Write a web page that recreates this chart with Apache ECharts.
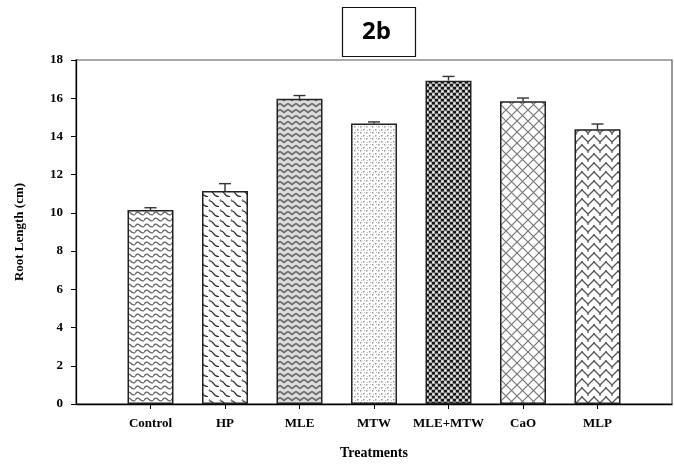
<!DOCTYPE html>
<html><head><meta charset="utf-8">
<script src="https://cdn.jsdelivr.net/npm/echarts@6/dist/echarts.min.js"></script>
<style>html,body{margin:0;padding:0;background:#fff}#c{width:674px;height:465px}</style>
</head><body><div id="c"></div>
<script>
const categories = ['Control','HP','MLE','MTW','MLE+MTW','CaO','MLP'];
const rootLength = [10.15, 11.15, 15.97, 14.68, 16.92, 15.84, 14.38];
const stdError = [0.12, 0.38, 0.17, 0.08, 0.22, 0.17, 0.27];
const yTicks = [0,2,4,6,8,10,12,14,16,18];

function pat(w,h,draw){
  const c=document.createElement('canvas');c.width=w;c.height=h;
  const g=c.getContext('2d');g.fillStyle='#fff';g.fillRect(0,0,w,h);draw(g);return c;
}
const patterns=[
  // Control: wavy rows
  pat(9,6,g=>{g.strokeStyle='#666';g.lineWidth=1.3;g.beginPath();g.moveTo(0,4.5);g.quadraticCurveTo(2.25,0.5,4.5,3);g.quadraticCurveTo(6.75,5.5,9,4.5);g.stroke();}),
  // HP: S strokes
  pat(11,10,g=>{g.strokeStyle='#333';g.lineWidth=1.2;
    const s=(dx,dy)=>{g.beginPath();g.moveTo(dx,dy+1);g.bezierCurveTo(dx+5,dy-0.5,dx+3,dy+7,dx+10,dy+6.5);g.stroke();};
    s(0,0);s(-5.5,5);s(5.5,-5);s(0,10);s(0,-10);s(-11,0);s(11,0);}),
  // MLE: dense grey chevrons
  pat(8,6,g=>{g.fillStyle='#dcdcdc';g.fillRect(0,0,8,6);g.strokeStyle='#6a6a6a';g.lineWidth=1.6;g.beginPath();g.moveTo(0,1.5);g.lineTo(4,4.5);g.lineTo(8,1.5);g.stroke();}),
  // MTW: sparse dots
  pat(6,6,g=>{g.fillStyle='#999';g.fillRect(0,0,1.5,1.5);g.fillRect(3,3,1.5,1.5);g.fillStyle='#bbb';g.fillRect(4,0,1,1);g.fillRect(1,4,1,1);}),
  // MLE+MTW: dense black dots
  pat(6,6,g=>{g.fillStyle='#aaa';g.fillRect(0,0,6,6);g.fillStyle='#1a1a1a';g.fillRect(0,0,3,2.5);g.fillRect(3,3,3,2.5);g.fillStyle='#fff';g.fillRect(3.5,0.5,1.5,1.5);g.fillRect(0.5,3.5,1.5,1.5);}),
  // CaO: diamond lattice
  pat(11,11,g=>{g.strokeStyle='#777';g.lineWidth=1.2;g.beginPath();g.moveTo(0,0);g.lineTo(11,11);g.moveTo(11,0);g.lineTo(0,11);g.stroke();}),
  // MLP: herringbone zigzag
  pat(12,9,g=>{g.strokeStyle='#555';g.lineWidth=1.3;g.beginPath();g.moveTo(0,7);g.lineTo(6,1);g.lineTo(12,7);g.stroke();g.beginPath();g.moveTo(6,1);g.lineTo(6,-1);g.moveTo(0,7);g.lineTo(0,10);g.moveTo(12,7);g.lineTo(12,10);g.stroke();})
];

const barData = rootLength.map((v,i)=>({value:[i+1,v],itemStyle:{color:{image:patterns[i],repeat:'repeat'}}}));
const errData = rootLength.map((v,i)=>[i+1,v,stdError[i]]);
const font = '"Liberation Serif", "Times New Roman", serif';

const chart = echarts.init(document.getElementById('c'),null,{renderer:'canvas'});
chart.setOption({
  animation:false,
  title:{text:'2b',left:342,top:7,padding:[9,20,9,20],borderColor:'#111',borderWidth:1.2,
    textStyle:{fontFamily:'"Open Sans", "Liberation Sans", sans-serif',fontWeight:'bold',fontSize:24,color:'#000',lineHeight:32,width:34,align:'center'}},
  grid:{left:76,right:2,top:60,bottom:61,show:true,borderColor:'#555',borderWidth:1.2},
  xAxis:{type:'value',min:0,max:8,interval:1,
    name:'Treatments',nameLocation:'middle',nameGap:42,
    nameTextStyle:{fontFamily:font,fontWeight:'bold',fontSize:14,color:'#000'},
    axisLine:{show:true,onZero:false,lineStyle:{color:'#000',width:1.3}},
    axisTick:{show:true,customValues:categories.map((c,i)=>i+1),length:5,inside:false,lineStyle:{color:'#000'}},
    axisLabel:{customValues:categories.map((c,i)=>i+1),formatter:v=>categories[v-1]||'',margin:13,
      fontFamily:font,fontWeight:'bold',fontSize:13,color:'#000'},
    splitLine:{show:false}},
  yAxis:{type:'value',min:0,max:18,interval:2,
    name:'Root Length (cm)',nameLocation:'middle',nameGap:50,
    nameTextStyle:{fontFamily:font,fontWeight:'bold',fontSize:13,color:'#000'},
    axisLine:{show:true,lineStyle:{color:'#000',width:1.3}},
    axisTick:{show:true,length:5,lineStyle:{color:'#000'}},
    axisLabel:{formatter:v=>yTicks.includes(v)?String(v):'',margin:13,fontFamily:font,fontWeight:'bold',fontSize:13,color:'#000'},
    splitLine:{show:false}},
  series:[
    {type:'bar',data:barData,barWidth:46,itemStyle:{borderColor:'#222',borderWidth:1.5}},
    {type:'custom',data:errData,z:5,renderItem:(params,api)=>{
      const x=api.value(0),v=api.value(1),e=api.value(2);
      const p0=api.coord([x,v]),p1=api.coord([x,v+e]);
      const st={stroke:'#333',lineWidth:1.4};
      return {type:'group',children:[
        {type:'line',shape:{x1:p0[0],y1:p0[1],x2:p1[0],y2:p1[1]},style:st},
        {type:'line',shape:{x1:p1[0]-6,y1:p1[1],x2:p1[0]+6,y2:p1[1]},style:st}
      ]};
    }}
  ]
});
</script></body></html>
